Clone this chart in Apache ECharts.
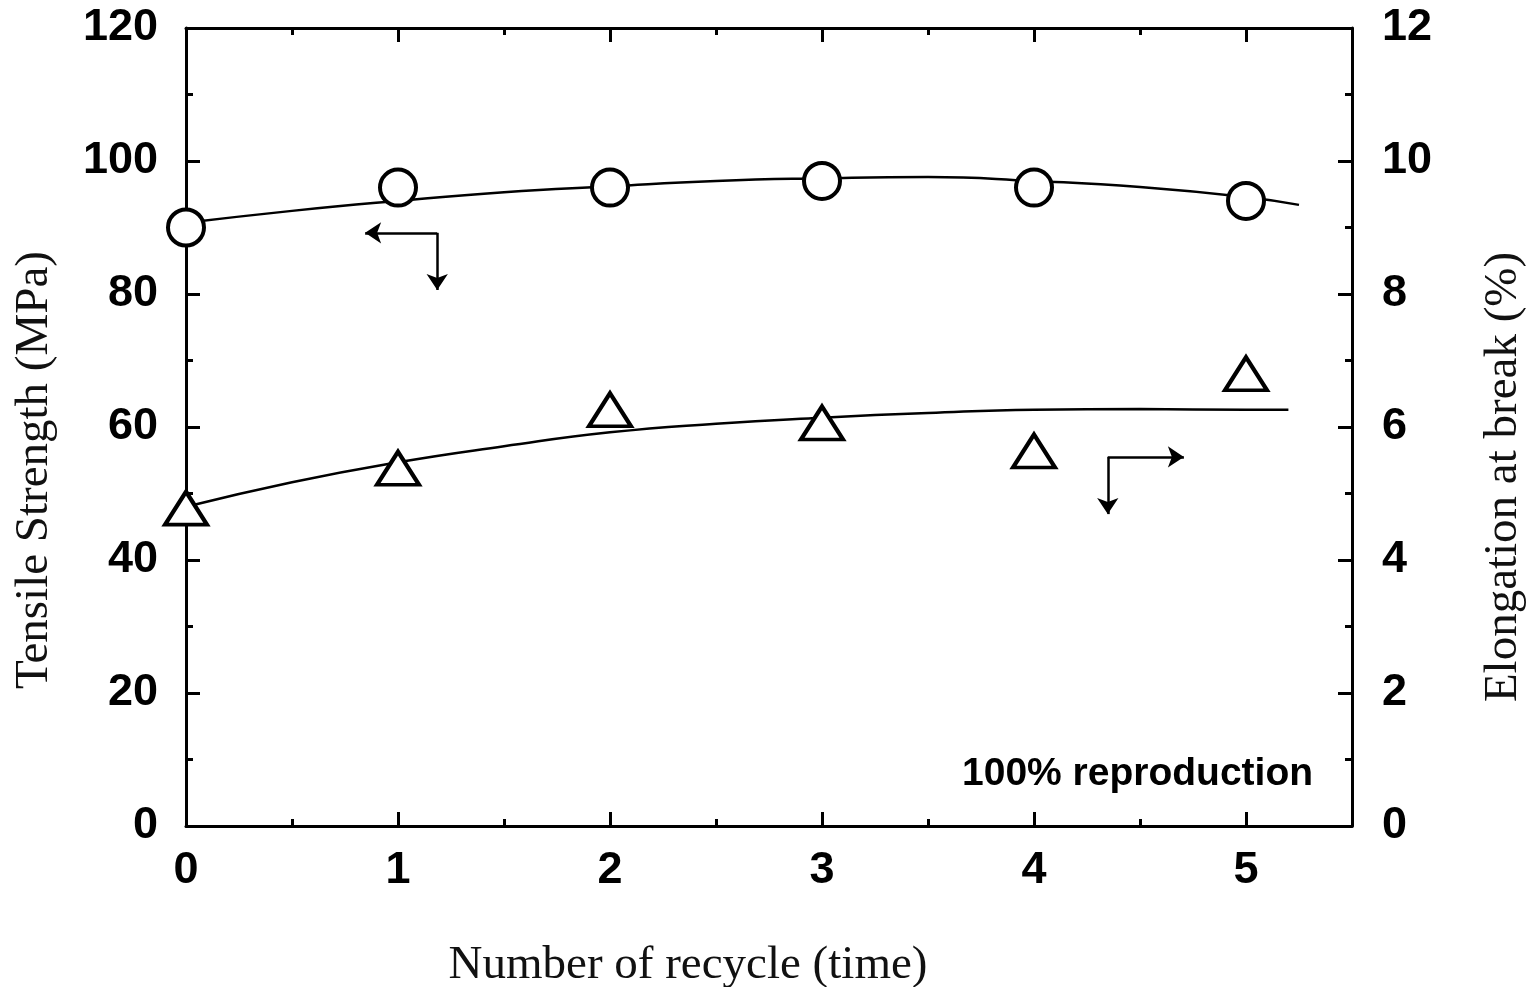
<!DOCTYPE html>
<html>
<head>
<meta charset="utf-8">
<script src="https://cdn.jsdelivr.net/npm/echarts@6/dist/echarts.min.js"></script>
<style>
  html, body { margin: 0; padding: 0; background: #fff; }
  #chart { width: 1530px; height: 987px; }
</style>
</head>
<body>
<div id="chart"></div>
<script>
// measured points
var recycle = [0, 1, 2, 3, 4, 5];
var tensile = [90, 96, 96, 97, 96, 94];           // MPa, left axis
var elongation = [4.78, 5.38, 6.26, 6.06, 5.64, 6.8]; // %, right axis

// fitted curves
var fitX = [0, 0.5, 1, 1.5, 2, 2.5, 3, 3.5, 4, 4.5, 5, 5.25];
var tensileFit = [90.7, 92.5, 94.0, 95.3, 96.2, 97.0, 97.4, 97.6, 97.0, 96.1, 94.6, 93.4];
var elongFitX = [0, 0.5, 1, 1.5, 2, 2.5, 3, 3.5, 4, 4.5, 5, 5.2];
var elongFit = [4.80, 5.17, 5.47, 5.71, 5.92, 6.05, 6.14, 6.21, 6.26, 6.27, 6.26, 6.26];

function pairs(xs, ys) {
  return xs.map(function (x, i) { return [x, ys[i]]; });
}

var chart = echarts.init(document.getElementById('chart'));

var tickLbl = {
  color: '#000',
  fontFamily: 'Liberation Sans',
  fontWeight: 'bold',
  fontSize: 45
};
var axisName = {
  color: '#111',
  fontFamily: 'Liberation Serif',
  fontSize: 47
};
var frame = { show: true, onZero: false, lineStyle: { color: '#000', width: 3 } };
var majorTick = { inside: true, length: 14, lineStyle: { color: '#000', width: 3 } };
var minorTick = { show: true, splitNumber: 2, length: 7, lineStyle: { color: '#000', width: 3 } };

var option = {
  backgroundColor: '#ffffff',
  animation: false,
  grid: { left: 186, top: 28, width: 1166, height: 798, outerBoundsMode: 'none', containLabel: false },
  xAxis: [{
    type: 'value',
    min: 0, max: 5.5, interval: 1,
    name: 'Number of recycle (time)',
    nameLocation: 'middle',
    nameGap: 116,
    nameTextStyle: Object.assign({ padding: [0, 162, 0, 0] }, axisName),
    axisLine: frame,
    axisTick: majorTick,
    minorTick: minorTick,
    axisLabel: Object.assign({ margin: 22 }, tickLbl, {
      formatter: function (v) { return v <= 5 ? v : ''; }
    }),
    splitLine: { show: false }
  }, {
    type: 'value',
    position: 'top',
    min: 0, max: 5.5, interval: 1,
    axisLine: frame,
    axisTick: majorTick,
    minorTick: minorTick,
    axisLabel: { show: false },
    splitLine: { show: false }
  }],
  yAxis: [{
    type: 'value',
    min: 0, max: 120, interval: 20,
    name: 'Tensile Strength (MPa)',
    nameLocation: 'middle',
    nameGap: 128,
    nameTextStyle: Object.assign({ padding: [0, 86, 0, 0] }, axisName),
    axisLine: frame,
    axisTick: majorTick,
    minorTick: minorTick,
    axisLabel: Object.assign({ margin: 28 }, tickLbl),
    splitLine: { show: false }
  }, {
    type: 'value',
    position: 'right',
    min: 0, max: 12, interval: 2,
    name: 'Elongation at break (%)',
    nameLocation: 'middle',
    nameGap: 128,
    nameRotate: 90,
    nameTextStyle: Object.assign({ padding: [0, 100, 0, 0] }, axisName),
    axisLine: frame,
    axisTick: majorTick,
    minorTick: minorTick,
    axisLabel: Object.assign({ margin: 30 }, tickLbl),
    splitLine: { show: false }
  }],
  series: [{
    name: 'tensile fit',
    type: 'line',
    smooth: true,
    showSymbol: false,
    data: pairs(fitX, tensileFit),
    lineStyle: { color: '#000', width: 2.5 },
    z: 2,
    markLine: {
      silent: true,
      symbol: ['none', 'arrow'],
      symbolSize: 16,
      label: { show: false },
      lineStyle: { color: '#000', width: 2.5, type: 'solid' },
      data: [
        [{ coord: [1.185, 89.2] }, { coord: [0.845, 89.2] }],
        [{ coord: [1.185, 89.2] }, { coord: [1.185, 80.6] }],
        [{ coord: [4.348, 55.5] }, { coord: [4.707, 55.5] }],
        [{ coord: [4.348, 55.5] }, { coord: [4.348, 46.9] }]
      ]
    }
  }, {
    name: 'Tensile Strength',
    type: 'scatter',
    symbol: 'circle',
    symbolSize: 36,
    data: pairs(recycle, tensile),
    itemStyle: { color: '#fff', borderColor: '#000', borderWidth: 4, opacity: 1 },
    z: 5
  }, {
    name: 'elongation fit',
    type: 'line',
    yAxisIndex: 1,
    smooth: true,
    showSymbol: false,
    data: pairs(elongFitX, elongFit),
    lineStyle: { color: '#000', width: 2.5 },
    z: 2
  }, {
    name: 'Elongation at break',
    type: 'scatter',
    yAxisIndex: 1,
    symbol: 'triangle',
    symbolSize: [42, 33],
    data: pairs(recycle, elongation),
    itemStyle: { color: '#fff', borderColor: '#000', borderWidth: 4, opacity: 1 },
    z: 5
  }],
  graphic: [{
    type: 'text',
    left: 962,
    top: 755,
    style: {
      text: '100% reproduction',
      fill: '#000',
      font: 'bold 39px "Liberation Sans"'
    }
  }]
};

chart.setOption(option);
</script>
</body>
</html>
